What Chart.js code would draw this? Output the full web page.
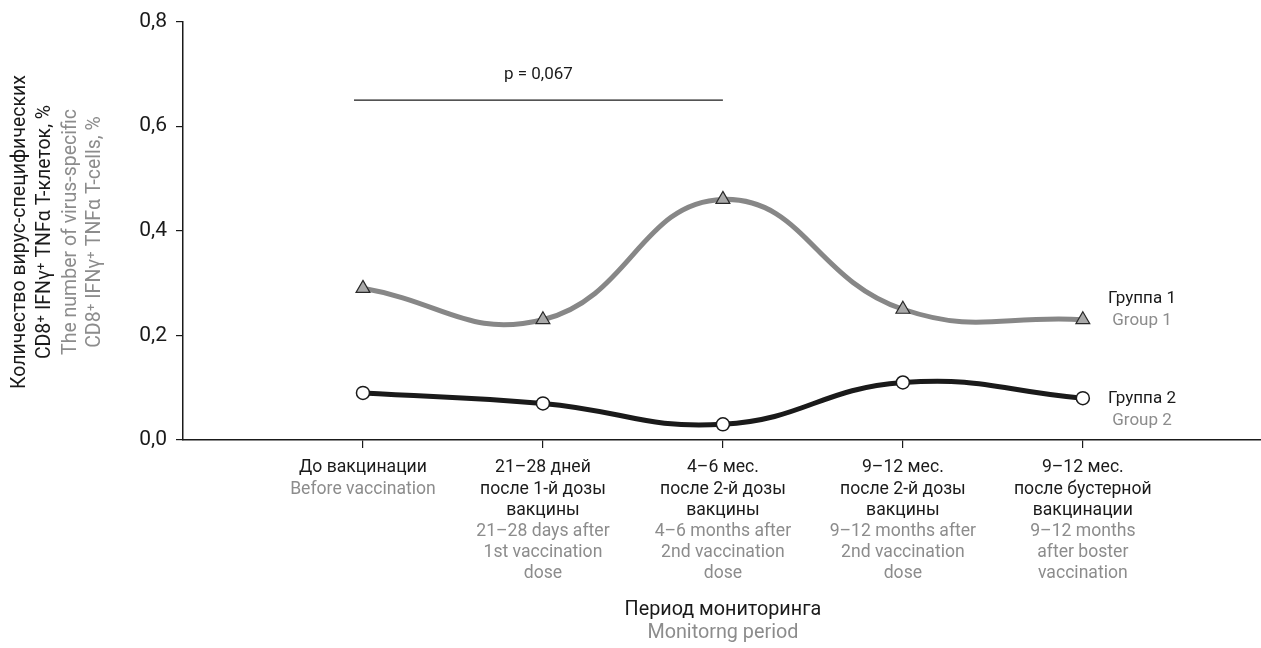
<!DOCTYPE html>
<html><head><meta charset="utf-8">
<script src="https://cdn.jsdelivr.net/npm/chart.js@4"></script>
<style>html,body{margin:0;padding:0;background:#fff}#wrap{width:1261px;height:648px;position:relative}</style>
</head><body><div id="wrap"><canvas id="c" width="1261" height="648"></canvas></div>
<script>
const positions = [1, 2, 3, 4, 5];
const group1 = [0.29, 0.23, 0.46, 0.25, 0.23];
const group2 = [0.09, 0.07, 0.03, 0.11, 0.08];
const yTicks = [0, 0.2, 0.4, 0.6, 0.8];
const ruLabels = [["До вакцинации"],["21–28 дней","после 1-й дозы","вакцины"],["4–6 мес.","после 2-й дозы","вакцины"],["9–12 мес.","после 2-й дозы","вакцины"],["9–12 мес.","после бустерной","вакцинации"]];
const enLabels = [["Before vaccination"],["21–28 days after","1st vaccination","dose"],["4–6 months after","2nd vaccination","dose"],["9–12 months after","2nd vaccination","dose"],["9–12 months","after boster","vaccination"]];
const seriesRu = ["Группа 1","Группа 2"];
const seriesEn = ["Group 1","Group 2"];
const yTitleRu = ["Количество вирус-специфических","CD8⁺ IFNγ⁺ TNFα T-клеток, %"];
const yTitleEn = ["The number of virus-specific","CD8⁺ IFNγ⁺ TNFα T-cells, %"];
const xTitleRu = "Период мониторинга";
const xTitleEn = "Monitorng period";
const pText = "p = 0,067";
const pRange = [1, 3];
const pLevel = 0.65;

const FONT = "Roboto";
const BLACK = "#1a1a1a", GRAY = "#8c8c8c";

const textPlugin = {
  id: 'texts',
  afterDraw(chart) {
    const ctx = chart.ctx, xs = chart.scales.x, ys = chart.scales.y;
    ctx.save();
    ctx.textAlign = 'center'; ctx.textBaseline = 'middle';
    // x tick labels
    const lh = 21.2;
    positions.forEach((p, i) => {
      const x = xs.getPixelForValue(p);
      let y = 468;
      ctx.font = `17.6px ${FONT}`; ctx.fillStyle = BLACK;
      ruLabels[i].forEach(t => { ctx.fillText(t, x, y); y += lh; });
      ctx.fillStyle = GRAY;
      enLabels[i].forEach(t => { ctx.fillText(t, x, y); y += lh; });
    });
    // x title
    const cx = xs.getPixelForValue(3);
    ctx.font = `19.8px ${FONT}`;
    ctx.fillStyle = BLACK; ctx.fillText(xTitleRu, cx, 610);
    ctx.fillStyle = GRAY; ctx.fillText(xTitleEn, cx, 633);
    // y title
    ctx.save();
    ctx.translate(0, 232); ctx.rotate(-Math.PI/2);
    ctx.font = `19.5px ${FONT}`;
    const lines = [[yTitleRu[0],BLACK,20],[yTitleRu[1],BLACK,45],[yTitleEn[0],GRAY,71],[yTitleEn[1],GRAY,95]];
    lines.forEach(([t,c,xx]) => { ctx.fillStyle = c; ctx.fillText(t, 0, xx); });
    ctx.restore();
    // legend labels
    const lx = 1142;
    const d1 = ys.getPixelForValue(group1[4]), d2 = ys.getPixelForValue(group2[4]);
    ctx.font = `17px ${FONT}`;
    ctx.fillStyle = BLACK; ctx.fillText(seriesRu[0], lx, d1 - 21);
    ctx.fillStyle = GRAY; ctx.fillText(seriesEn[0], lx, d1 + 1);
    ctx.fillStyle = BLACK; ctx.fillText(seriesRu[1], lx, d2 + 1);
    ctx.fillStyle = GRAY; ctx.fillText(seriesEn[1], lx, d2 + 23);
    // p bracket
    const px1 = xs.getPixelForValue(pRange[0]) - 9, px2 = xs.getPixelForValue(pRange[1]);
    const py = ys.getPixelForValue(pLevel);
    ctx.strokeStyle = BLACK; ctx.lineWidth = 1.3;
    ctx.beginPath(); ctx.moveTo(px1, py); ctx.lineTo(px2, py); ctx.stroke();
    ctx.fillStyle = BLACK; ctx.font = `17px ${FONT}`;
    ctx.fillText(pText, (px1 + px2) / 2, py - 25);
    ctx.restore();
  }
};

new Chart(document.getElementById('c'), {
  type: 'line',
  data: {
    datasets: [
      { label: seriesEn[0], data: positions.map((p,i)=>({x:p,y:group1[i]})),
        borderColor: '#878787', borderWidth: 5, tension: 0.45,
        pointStyle: 'triangle', pointRadius: 8, pointBackgroundColor: '#a9a9a9',
        pointBorderColor: '#2a2a2a', pointBorderWidth: 1.2, clip: false },
      { label: seriesEn[1], data: positions.map((p,i)=>({x:p,y:group2[i]})),
        borderColor: '#1a1a1a', borderWidth: 5, tension: 0.45,
        pointStyle: 'circle', pointRadius: 6.5, pointBackgroundColor: '#ffffff',
        pointBorderColor: '#1a1a1a', pointBorderWidth: 1.5, clip: false }
    ]
  },
  options: {
    responsive: false, animation: false,
    layout: { autoPadding: false, padding: { top: 21, right: 0, left: 0, bottom: 0 } },
    plugins: { legend: { display: false }, tooltip: { enabled: false } },
    scales: {
      x: { type: 'linear', min: 0, max: 5.99,
        afterBuildTicks(s) { s.ticks = positions.map(v => ({ value: v })); },
        afterFit(s) { s.height = 208; },
        grid: { drawOnChartArea: false, drawTicks: true, tickLength: 8, color: BLACK, lineWidth: 1.2 },
        border: { color: BLACK, width: 1.5 },
        ticks: { display: false } },
      y: { min: 0, max: 0.8,
        afterBuildTicks(s) { s.ticks = yTicks.map(v => ({ value: v })); },
        afterFit(s) { s.width = 183; },
        grid: { drawOnChartArea: false, drawTicks: true, tickLength: 7, color: BLACK, lineWidth: 1.2 },
        border: { color: BLACK, width: 1.5 },
        ticks: { padding: 9, color: BLACK, font: { family: FONT, size: 21 },
          callback: v => v.toFixed(1).replace('.', ',') } }
    }
  },
  plugins: [textPlugin]
});
</script></body></html>
